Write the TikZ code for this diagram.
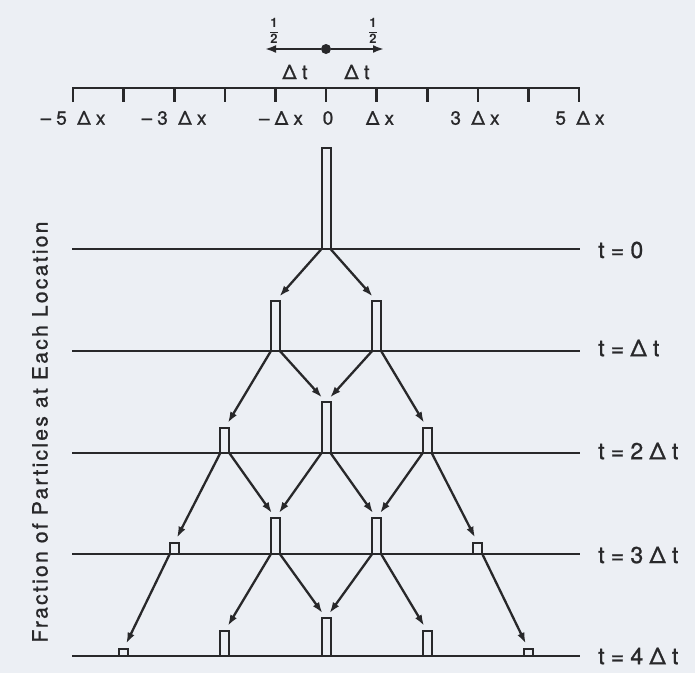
\documentclass[tikz,border=0pt]{standalone}
\usepackage{fontspec}
\setmainfont{TeX Gyre Heros}
\newfontfamily\trk[LetterSpace=27,FakeBold=1]{TeX Gyre Heros}
\newfontfamily\trkv[LetterSpace=11,FakeBold=1]{TeX Gyre Heros}
\usetikzlibrary{arrows.meta}
\definecolor{bg}{RGB}{236,239,244}
\definecolor{ink}{RGB}{40,40,42}
\tikzset{
  bar/.style={draw=ink, line width=2pt, fill=bg, minimum width=9pt, inner sep=0pt, outer sep=0pt, anchor=south},
  flow/.style={draw=ink, line width=2.3pt, -{Latex[length=11pt,width=7.5pt]}, shorten >=6pt},
  rulel/.style={draw=ink, line width=2.6pt},
  ticklab/.style={text=ink, font=\trk\fontsize{19}{19}\selectfont, inner sep=0pt},
  tlab/.style={text=ink, font=\trk\fontsize{23}{23}\selectfont, anchor=west, inner sep=0pt},
  dtlab/.style={text=ink, font=\trk\fontsize{20}{20}\selectfont, inner sep=0pt},
  halflab/.style={text=ink, font=\fontsize{13}{13}\selectfont, inner sep=0pt},
}
\begin{document}
\begin{tikzpicture}[x=1pt,y=-1pt]
\fill[bg] (0,0) rectangle (695,673);
\useasboundingbox (0,0) rectangle (695,673);

% --- spatial axis ---
\foreach \k in {-5,...,5} {
  \coordinate (ta\k) at ({326+50.6*\k},88);
  \coordinate (tb\k) at ({326+50.6*\k},102);
}
\draw[rulel, line join=miter] (tb-5) -- (ta-5) -- (ta5) -- (tb5);
\foreach \k in {-4,...,4} { \draw[rulel] (ta\k) -- (tb\k); }

\node[ticklab] (xm5) at (73,118) {–5 Δx};
\node[ticklab] (xm3) at (174,118) {–3 Δx};
\node[ticklab] (xm1) at (281,118) {–Δx};
\node[ticklab] (x0)  at (328,118) {0};
\node[ticklab] (xp1) at (380,118) {Δx};
\node[ticklab] (xp3) at (475,118) {3 Δx};
\node[ticklab] (xp5) at (580,118) {5 Δx};

% --- random step symbol ---
\node[circle, fill=ink, minimum size=10pt, inner sep=0pt] (dot) at (326,49) {};
\coordinate (al) at (265,49);
\coordinate (ar) at (384,49);
\draw[rulel, -{Latex[length=11pt,width=8pt]}] (dot) -- (al);
\draw[rulel, -{Latex[length=11pt,width=8pt]}] (dot) -- (ar);
\node[halflab] (hl) at (274,31) {$\displaystyle\frac{\mathbf{1}}{\mathbf{2}}$};
\node[halflab] (hr) at (373,31) {$\displaystyle\frac{\mathbf{1}}{\mathbf{2}}$};
\node[dtlab] (dtl) at (295,72) {Δt};
\node[dtlab] (dtr) at (357,72) {Δt};

% --- time lines ---
\foreach \n/\y in {0/249,1/351,2/453,3/554,4/656} {
  \coordinate (la\n) at (72,\y);
  \coordinate (lb\n) at (580,\y);
  \draw[rulel] (la\n) -- (lb\n);
}
\node[tlab] (lt0) at (598,250) {t=0};
\node[tlab] (lt1) at (598,348) {t=Δt};
\node[tlab] (lt2) at (598,451) {t=2Δt};
\node[tlab] (lt3) at (598,555) {t=3Δt};
\node[tlab] (lt4) at (598,656) {t=4Δt};

% --- bars (fraction of particles) ---
\node[bar, minimum height=101pt] (s00) at (326,249) {};

\node[bar, minimum height=50pt] (s1m1) at (275.4,351) {};
\node[bar, minimum height=50pt] (s1p1) at (376.6,351) {};

\node[bar, minimum height=25pt] (s2m2) at (224.8,453) {};
\node[bar, minimum height=51pt] (s2z)  at (326,453) {};
\node[bar, minimum height=25pt] (s2p2) at (427.2,453) {};

\node[bar, minimum height=11pt] (s3m3) at (174.2,554) {};
\node[bar, minimum height=36pt] (s3m1) at (275.4,554) {};
\node[bar, minimum height=36pt] (s3p1) at (376.6,554) {};
\node[bar, minimum height=11pt] (s3p3) at (477.8,554) {};

\node[bar, minimum height=7pt]  (s4m4) at (123.6,656) {};
\node[bar, minimum height=25pt] (s4m2) at (224.8,656) {};
\node[bar, minimum height=38pt] (s4z)  at (326,656) {};
\node[bar, minimum height=25pt] (s4p2) at (427.2,656) {};
\node[bar, minimum height=7pt]  (s4p4) at (528.4,656) {};

% --- transitions ---
\draw[flow] (s00.south west) -- (s1m1.north);
\draw[flow] (s00.south east) -- (s1p1.north);

\draw[flow] (s1m1.south west) -- (s2m2.north);
\draw[flow] (s1m1.south east) -- (s2z.north);
\draw[flow] (s1p1.south west) -- (s2z.north);
\draw[flow] (s1p1.south east) -- (s2p2.north);

\draw[flow] (s2m2.south west) -- (s3m3.north);
\draw[flow] (s2m2.south east) -- (s3m1.north);
\draw[flow] (s2z.south west) -- (s3m1.north);
\draw[flow] (s2z.south east) -- (s3p1.north);
\draw[flow] (s2p2.south west) -- (s3p1.north);
\draw[flow] (s2p2.south east) -- (s3p3.north);

\draw[flow] (s3m3.south west) -- (s4m4.north);
\draw[flow] (s3m1.south west) -- (s4m2.north);
\draw[flow] (s3m1.south east) -- (s4z.north);
\draw[flow] (s3p1.south west) -- (s4z.north);
\draw[flow] (s3p1.south east) -- (s4p2.north);
\draw[flow] (s3p3.south east) -- (s4p4.north);

% --- vertical label ---
\node[rotate=90, text=ink, font=\trkv\fontsize{21}{21}\selectfont, inner sep=0pt] (ylab) at (40,432) {Fraction of Particles at Each Location};
\end{tikzpicture}
\end{document}
